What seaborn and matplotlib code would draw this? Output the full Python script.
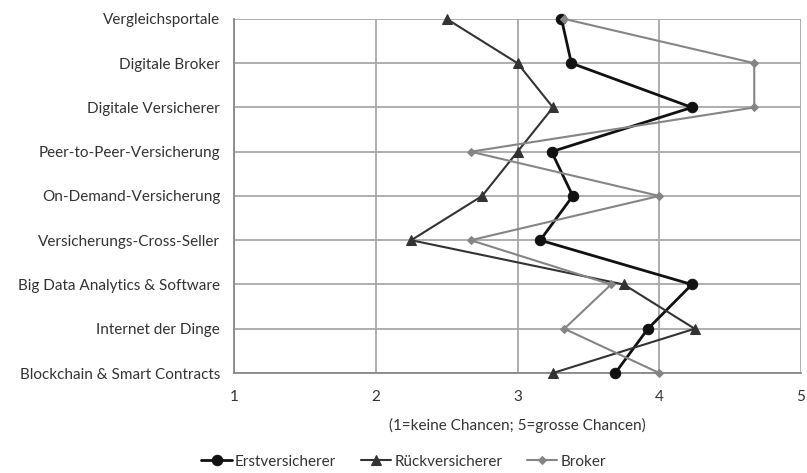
import pandas as pd
import numpy as np
import matplotlib
matplotlib.use('Agg')
import matplotlib.pyplot as plt
import seaborn as sns

# Kategorien (oben nach unten) und Mittelwerte je Gruppe
kategorien = ['Vergleichsportale', 'Digitale Broker', 'Digitale Versicherer',
              'Peer-to-Peer-Versicherung', 'On-Demand-Versicherung',
              'Versicherungs-Cross-Seller', 'Big Data Analytics & Software',
              'Internet der Dinge', 'Blockchain & Smart Contracts']
erstversicherer = [3.31, 3.38, 4.23, 3.24, 3.39, 3.16, 4.23, 3.92, 3.69]
rueckversicherer = [2.5, 3.0, 3.25, 3.0, 2.75, 2.25, 3.75, 4.25, 3.25]
broker = [3.33, 4.67, 4.67, 2.67, 4.0, 2.67, 3.66, 3.33, 4.0]

gruppen = ['Erstversicherer', 'Rückversicherer', 'Broker']
werte = [erstversicherer, rueckversicherer, broker]

data = pd.DataFrame({
    'Kategorie': kategorien * 3,
    'Wert': np.concatenate(werte),
    'Gruppe': np.repeat(gruppen, len(kategorien)),
})

sns.set_style('white')
plt.rcParams['font.family'] = ['Lato', 'DejaVu Sans']

fig = plt.figure(figsize=(8.07, 4.73), dpi=100)
ax = fig.add_axes([0.290, 0.2114, 0.7026, 0.7486])

farben = {'Erstversicherer': '#111111', 'Rückversicherer': '#333333', 'Broker': '#858585'}
marker = {'Erstversicherer': 'o', 'Rückversicherer': '^', 'Broker': 'D'}
msize = {'Erstversicherer': 7.5, 'Rückversicherer': 7, 'Broker': 4.5}
lwidth = {'Erstversicherer': 2.0, 'Rückversicherer': 1.5, 'Broker': 1.5}

for g in gruppen:
    sub = data[data['Gruppe'] == g]
    sns.lineplot(data=sub, x='Wert', y='Kategorie', orient='y', sort=False,
                 color=farben[g], marker=marker[g], markersize=msize[g],
                 markeredgecolor=farben[g], linewidth=lwidth[g], label=g,
                 ax=ax, zorder=3, clip_on=False)

ax.set_xlim(1, 5)
ax.set_ylim(len(kategorien) - 1, 0)
ax.set_xticks([1, 2, 3, 4, 5])
ax.grid(True, color='#a8a8a8', linewidth=1.3)
ax.set_axisbelow(True)
for s in ['top', 'right']:
    ax.spines[s].set_visible(False)
for s in ['left', 'bottom']:
    ax.spines[s].set_color('#888888')
    ax.spines[s].set_linewidth(1.3)
ax.tick_params(axis='y', length=4, color='#888888', labelsize=11, labelcolor='#333333', pad=6)
ax.tick_params(axis='x', length=0, labelsize=11, labelcolor='#333333', pad=12)
ax.set_ylabel('')
ax.set_xlabel('(1=keine Chancen; 5=grosse Chancen)', fontsize=11, color='#333333', labelpad=10)

handles, labels = ax.get_legend_handles_labels()
ax.get_legend().remove()
fig.legend(handles, labels, loc='lower center', bbox_to_anchor=(0.5, -0.02), ncol=3,
           frameon=False, fontsize=11, handlelength=2.0, handletextpad=0.2,
           columnspacing=1.6, labelcolor='#333333')

fig.savefig('out.png', dpi=100)
